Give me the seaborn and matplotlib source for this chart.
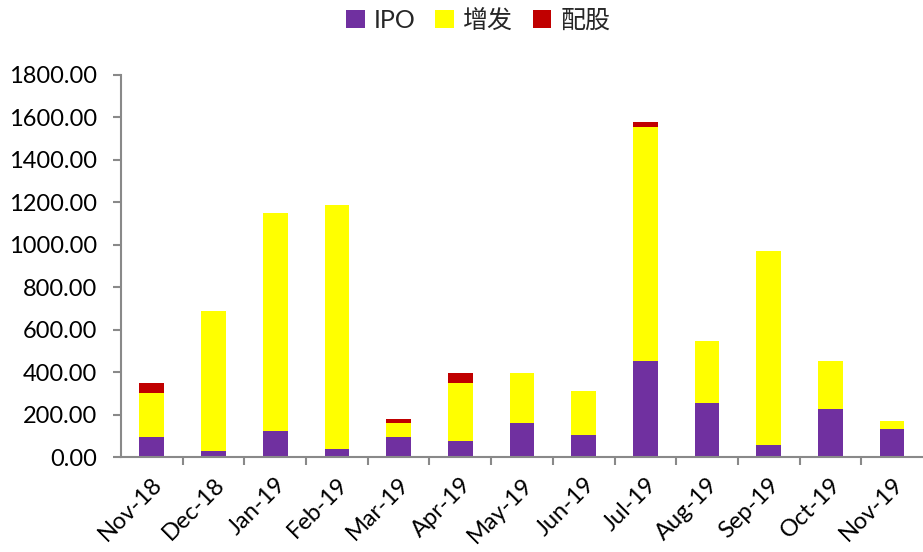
import numpy as np
import pandas as pd
import matplotlib
matplotlib.use("Agg")
import matplotlib.pyplot as plt
from matplotlib.patches import Patch
from matplotlib.ticker import FixedLocator
import seaborn as sns

months = ["Nov-18", "Dec-18", "Jan-19", "Feb-19", "Mar-19", "Apr-19", "May-19",
          "Jun-19", "Jul-19", "Aug-19", "Sep-19", "Oct-19", "Nov-19"]
ipo = [94, 28, 122, 38, 94, 75, 160, 104, 452, 254, 56, 226, 132]
zengfa = [207, 659, 1026, 1148, 66, 273, 235, 207, 1101, 292, 913, 226, 38]
peigu = [47, 0, 0, 0, 19, 47, 0, 0, 25, 0, 0, 0, 0]
series_names = ["IPO", "增发", "配股"]
colors = ["#7030A0", "#FFFF00", "#C00000"]

sns.set_theme(style="white")
plt.rcParams['font.family'] = ['Lato', 'Noto Sans CJK SC', 'DejaVu Sans']

df = pd.DataFrame({"month": months, "IPO": ipo, "增发": zengfa, "配股": peigu})
df["lvl1"] = df["IPO"]
df["lvl2"] = df["IPO"] + df["增发"]
df["lvl3"] = df["lvl2"] + df["配股"]

fig = plt.figure(figsize=(9.23, 5.52), dpi=100)
ax = fig.add_axes([0.131, 0.172, 0.869, 0.693])

for col, c in zip(["lvl3", "lvl2", "lvl1"], [colors[2], colors[1], colors[0]]):
    sns.barplot(data=df, x="month", y=col, color=c, width=0.4, ax=ax,
                saturation=1, linewidth=0, edgecolor="none", order=months)

ax.set_ylim(0, 1800)
ax.set_xlim(-0.5, len(months) - 0.5)
ax.set_yticks(np.arange(0, 1801, 200))
ax.set_yticklabels([f"{v:.2f}" for v in np.arange(0, 1801, 200)], fontsize=17, color="black")
ax.set_xlabel("")
ax.set_ylabel("")

ax.set_xticks(range(len(months)))
ax.set_xticklabels(months, fontsize=17, rotation=45, ha="right", rotation_mode="anchor", color="black")
ax.tick_params(axis="x", which="major", length=0, pad=12)
ax.xaxis.set_minor_locator(FixedLocator(np.arange(0.5, len(months) - 0.5, 1)))
ax.tick_params(axis="x", which="minor", length=6, width=1.5, color="#898989", bottom=True, direction="out")
ax.tick_params(axis="y", which="major", length=6, width=1.5, color="#898989", left=True, direction="out", pad=11)

for s in ["top", "right"]:
    ax.spines[s].set_visible(False)
for s in ["left", "bottom"]:
    ax.spines[s].set_color("#898989")
    ax.spines[s].set_linewidth(1.5)

handles = [Patch(facecolor=c, edgecolor="none") for c in colors]
fig.legend(handles, series_names, loc="upper center", bbox_to_anchor=(0.518, 1.025),
           ncol=3, frameon=False, fontsize=18, handlelength=0.75, handleheight=0.75,
           handletextpad=0.35, columnspacing=0.8)

fig.savefig("out.png", dpi=100)
